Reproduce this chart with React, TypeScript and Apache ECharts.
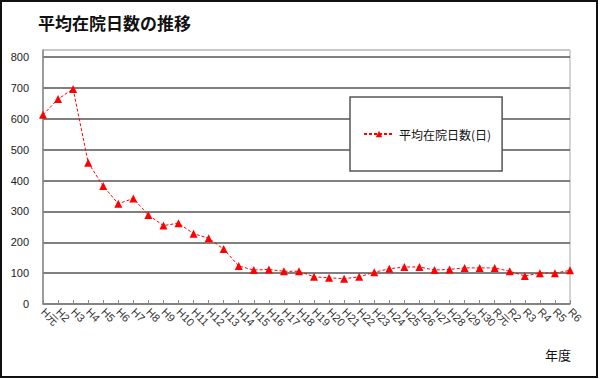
import React, { useEffect, useRef } from "react";
import * as echarts from "echarts";

const categories = [
  "H元", "H2", "H3", "H4", "H5", "H6", "H7", "H8", "H9", "H10",
  "H11", "H12", "H13", "H14", "H15", "H16", "H17", "H18", "H19", "H20",
  "H21", "H22", "H23", "H24", "H25", "H26", "H27", "H28", "H29", "H30",
  "R元", "R2", "R3", "R4", "R5", "R6",
];

const avgStayDays = [
  613, 664, 697, 458, 382, 325, 342, 288, 254, 262,
  228, 213, 178, 123, 110, 112, 106, 106, 88, 85,
  82, 88, 103, 114, 120, 120, 110, 112, 117, 117,
  117, 106, 91, 100, 100, 109,
];

const titleText = "平均在院日数の推移";
const seriesName = "平均在院日数(日)";
const xAxisTitle = "年度";

const latin = "'Liberation Sans', 'Noto Sans CJK JP', sans-serif";
const cjk = "'Noto Sans CJK JP', 'Liberation Sans', sans-serif";

export default function App() {
  const ref = useRef<HTMLDivElement>(null);

  useEffect(() => {
    if (!ref.current) return;
    const chart = echarts.init(ref.current, undefined, { renderer: "svg" });
    const splitColors = [
      "#555", "#555", "#555", "#555", "#555", "#555", "#555", "#555", "#555", "#c4c4c4",
    ];
    chart.setOption({
      animation: false,
      backgroundColor: "#fff",
      textStyle: { fontFamily: latin },
      grid: {
        left: 43,
        right: 30,
        top: 50,
        bottom: 75,
        show: true,
        borderColor: "#a8a8a8",
        borderWidth: 1,
        backgroundColor: "transparent",
      },
      xAxis: {
        type: "category",
        data: categories,
        boundaryGap: false,
        axisLine: { show: true, lineStyle: { color: "#888", width: 1.5 } },
        axisTick: { show: true, inside: true, length: 4, lineStyle: { color: "#888" } },
        axisLabel: {
          rotate: -45,
          interval: 0,
          fontSize: 11,
          color: "#333",
          margin: 6,
          fontFamily: latin,
        },
        splitLine: { show: false },
      },
      yAxis: {
        type: "value",
        min: 0,
        max: 823,
        interval: 100,
        axisLine: { show: true, lineStyle: { color: "#888", width: 1.5 } },
        axisTick: { show: false },
        axisLabel: {
          fontSize: 11,
          color: "#222",
          margin: 14,
          showMaxLabel: false,
          fontFamily: latin,
        },
        splitLine: { show: true, lineStyle: { color: splitColors, width: 1.5 } },
      },
      legend: {
        show: true,
        left: 350,
        top: 97,
        orient: "horizontal",
        selectedMode: false,
        backgroundColor: "#fff",
        borderColor: "#555",
        borderWidth: 1.5,
        borderRadius: 0,
        padding: [31, 11, 31, 13],
        itemWidth: 30,
        itemHeight: 8,
        itemGap: 5,
        textStyle: { fontSize: 12, color: "#111", fontFamily: cjk },
        data: [{ name: seriesName }],
      },
      graphic: [
        {
          type: "text",
          left: 38,
          top: 14,
          style: {
            text: titleText,
            font: `bold 17px ${cjk}`,
            fill: "#111",
          },
        },
        {
          type: "text",
          left: 545,
          top: 348,
          style: {
            text: xAxisTitle,
            font: `13px ${cjk}`,
            fill: "#111",
          },
        },
        {
          type: "rect",
          shape: { x: 1, y: 1, width: 596, height: 376 },
          style: { fill: "none", stroke: "#111", lineWidth: 2 },
          silent: true,
          z: 100,
        },
      ],
      series: [
        {
          name: seriesName,
          type: "line",
          data: avgStayDays,
          symbol: "triangle",
          symbolSize: 8,
          itemStyle: { color: "#ff0000" },
          lineStyle: { color: "#ff0000", width: 1, type: [3, 2] },
          z: 5,
        },
      ],
    });
    return () => chart.dispose();
  }, []);

  return (
    <div
      ref={ref}
      style={{ position: "fixed", left: 0, top: 0, width: 600, height: 379 }}
    />
  );
}
